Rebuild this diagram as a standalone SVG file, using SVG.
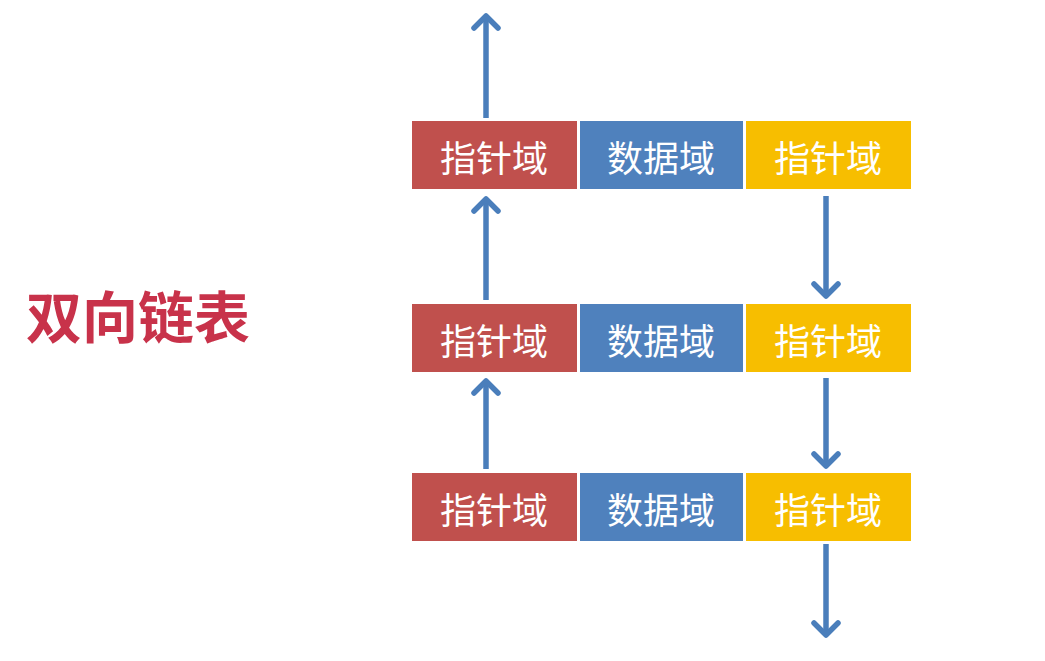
<svg xmlns="http://www.w3.org/2000/svg" width="1045" height="661" viewBox="0 0 1045 661">
<style>
.red{fill:#C0504D}
.blue{fill:#4F81BD}
.yel{fill:#F7BE00}
.lbl{font-family:"Noto Sans CJK SC","Noto Sans",sans-serif;font-size:36px;fill:#ffffff;text-anchor:middle;dominant-baseline:central}
.conn{stroke:#4A7EBB;stroke-width:5.5;fill:none}
.title{font-family:"Noto Sans CJK SC",sans-serif;font-size:56px;font-weight:bold;fill:#C8324A}
</style>
<defs>
<marker id="ah" markerUnits="userSpaceOnUse" viewBox="-16 -16 32 32" markerWidth="32" markerHeight="32" refX="0" refY="0" orient="auto">
<polyline points="-12,-12 0,0 -12,12" fill="none" stroke="#4A7EBB" stroke-width="5.5" stroke-linecap="round" stroke-linejoin="round"/>
</marker>
</defs>
<rect width="1045" height="661" fill="#ffffff"/>
<text class="title" x="26" y="338">双向链表</text>
<g id="connectors">
<line class="conn" x1="486" y1="118" x2="486" y2="16" marker-end="url(#ah)"/>
<line class="conn" x1="486" y1="300" x2="486" y2="199" marker-end="url(#ah)"/>
<line class="conn" x1="486" y1="469" x2="486" y2="381" marker-end="url(#ah)"/>
<line class="conn" x1="826" y1="196" x2="826" y2="296" marker-end="url(#ah)"/>
<line class="conn" x1="826" y1="378" x2="826" y2="466" marker-end="url(#ah)"/>
<line class="conn" x1="826" y1="544" x2="826" y2="635" marker-end="url(#ah)"/>
</g>
<g id="node1">
<rect class="red" x="412" y="121" width="165" height="68"/>
<rect class="blue" x="580" y="121" width="163" height="68"/>
<rect class="yel" x="746" y="121" width="165" height="68"/>
<text class="lbl" x="494" y="156">指针域</text>
<text class="lbl" x="661" y="156">数据域</text>
<text class="lbl" x="828" y="156">指针域</text>
</g>
<g id="node2">
<rect class="red" x="412" y="304" width="165" height="68"/>
<rect class="blue" x="580" y="304" width="163" height="68"/>
<rect class="yel" x="746" y="304" width="165" height="68"/>
<text class="lbl" x="494" y="339">指针域</text>
<text class="lbl" x="661" y="339">数据域</text>
<text class="lbl" x="828" y="339">指针域</text>
</g>
<g id="node3">
<rect class="red" x="412" y="473" width="165" height="68"/>
<rect class="blue" x="580" y="473" width="163" height="68"/>
<rect class="yel" x="746" y="473" width="165" height="68"/>
<text class="lbl" x="494" y="508">指针域</text>
<text class="lbl" x="661" y="508">数据域</text>
<text class="lbl" x="828" y="508">指针域</text>
</g>
</svg>
